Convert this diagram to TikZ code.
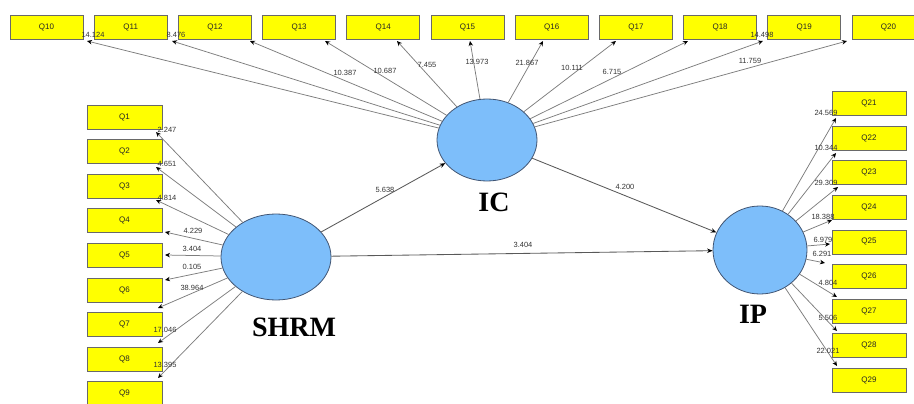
\documentclass[tikz,border=0pt]{standalone}
\usepackage{fontspec}
\setmainfont{Liberation Serif}
\newfontfamily\arial{Liberation Sans}
\usetikzlibrary{arrows.meta,calc,shapes.geometric}
\definecolor{qyellow}{RGB}{255,255,0}
\definecolor{qborder}{RGB}{105,105,105}
\definecolor{lvfill}{RGB}{125,190,250}
\definecolor{lvborder}{RGB}{65,85,115}
\definecolor{lgray}{RGB}{125,125,125}
\begin{document}
\begin{tikzpicture}[x=1pt,y=-1pt,
  qbox/.style={draw=qborder,fill=qyellow,line width=0.8pt,minimum width=73pt,minimum height=24pt,inner sep=0pt,font=\arial\fontsize{8}{9}\selectfont,text=black!85},
  lv/.style={ellipse,draw=lvborder,fill=lvfill,line width=0.8pt,inner sep=0pt},
  loadarrow/.style={draw=lgray,line width=0.75pt,-{Stealth[length=5pt,width=4.5pt,color=black]}},
  patharrow/.style={draw=black!65,line width=0.85pt,-{Stealth[length=5.5pt,width=4.5pt,color=black]}},
  num/.style={font=\arial\fontsize{7.5}{8}\selectfont,inner sep=0pt,text=black!80},
  big/.style={font=\fontsize{28}{30}\selectfont\bfseries,inner sep=0pt}
]
\useasboundingbox (0,0) rectangle (914,404);

% latent variables
\node[lv,minimum width=100pt,minimum height=82pt] (ic) at (487,140) {};
\node[lv,minimum width=110pt,minimum height=86pt] (shrm) at (276,257) {};
\node[lv,minimum width=94pt,minimum height=88pt] (ip) at (760,250) {};

\node[big] (icl) at (494,202) {IC};
\node[big] (shrml) at (294,327) {SHRM};
\node[big] (ipl) at (753,314) {IP};

% top indicators Q10-Q20
\foreach \i in {10,...,20}{
  \pgfmathsetmacro\xx{46.5+(\i-10)*84.2}
  \node[qbox] (q\i) at (\xx,27) {Q\i};
}
% left indicators Q1-Q9
\foreach \i in {1,...,9}{
  \pgfmathsetmacro\yy{117+(\i-1)*34.6}
  \node[qbox,minimum width=75pt] (q\i) at (124.5,\yy) {Q\i};
}
% right indicators Q21-Q29
\foreach \i in {21,...,29}{
  \pgfmathsetmacro\yy{103.5+(\i-21)*34.6}
  \node[qbox,minimum width=74pt] (q\i) at (869,\yy) {Q\i};
}

% arrow end points
\foreach \i/\x in {10/87,11/172,12/250,13/325,14/397,15/470,16/543,17/616,18/688,19/763,20/847}
  \coordinate (t\i) at (\x,41);
\foreach \i/\x/\y in {1/156/132,2/156/167,3/156/200,4/165/232,5/165/255,6/165/280,7/158/308,8/158/343,9/158/378}
  \coordinate (t\i) at (\x,\y);
\foreach \i/\x/\y in {21/836/118,22/836/153,23/838/187,24/832/220,25/830/244,26/825/263,27/837/297,28/837/331,29/837/366}
  \coordinate (t\i) at (\x,\y);

% outer loadings
\foreach \i in {10,...,20} \draw[loadarrow] (ic) -- (t\i);
\foreach \i in {1,...,9} \draw[loadarrow] (shrm) -- (t\i);
\foreach \i in {21,...,29} \draw[loadarrow] (ip) -- (t\i);

% structural paths
\draw[patharrow] (shrm) -- (ic);
\draw[patharrow] (ic) -- (ip);
\draw[patharrow] (shrm) -- (ip);

% path labels
\node[num] (p1) at (385,190) {5.638};
\node[num] (p2) at (625,187) {4.200};
\node[num] (p3) at (523,245) {3.404};

% top labels
\node[num] (l10) at (93,35) {14.124};
\node[num] (l11) at (176,35) {8.476};
\node[num] (l12) at (345,73) {10.387};
\node[num] (l13) at (385,71) {10.687};
\node[num] (l14) at (427,65) {7.455};
\node[num] (l15) at (477,62) {13.973};
\node[num] (l16) at (527,63) {21.867};
\node[num] (l17) at (572,68) {10.111};
\node[num] (l18) at (612,72) {6.715};
\node[num] (l19) at (762,35) {14.498};
\node[num] (l20) at (750,61) {11.759};

% left labels
\node[num] (l1) at (167,130) {2.247};
\node[num] (l2) at (167,164) {4.651};
\node[num] (l3) at (167,198) {4.814};
\node[num] (l4) at (193,231) {4.229};
\node[num] (l5) at (192,249) {3.404};
\node[num] (l6) at (192,267) {0.105};
\node[num] (l7) at (192,288) {38.964};
\node[num] (l8) at (165,330) {17.046};
\node[num] (l9) at (165,365) {13.395};

% right labels
\node[num] (l21) at (826,113) {24.569};
\node[num] (l22) at (826,148) {10.344};
\node[num] (l23) at (826,183) {29.309};
\node[num] (l24) at (823,217) {18.388};
\node[num] (l25) at (823,240) {6.979};
\node[num] (l26) at (822,254) {6.291};
\node[num] (l27) at (828,283) {4.804};
\node[num] (l28) at (828,318) {5.506};
\node[num] (l29) at (828,351) {22.021};
\end{tikzpicture}
\end{document}
